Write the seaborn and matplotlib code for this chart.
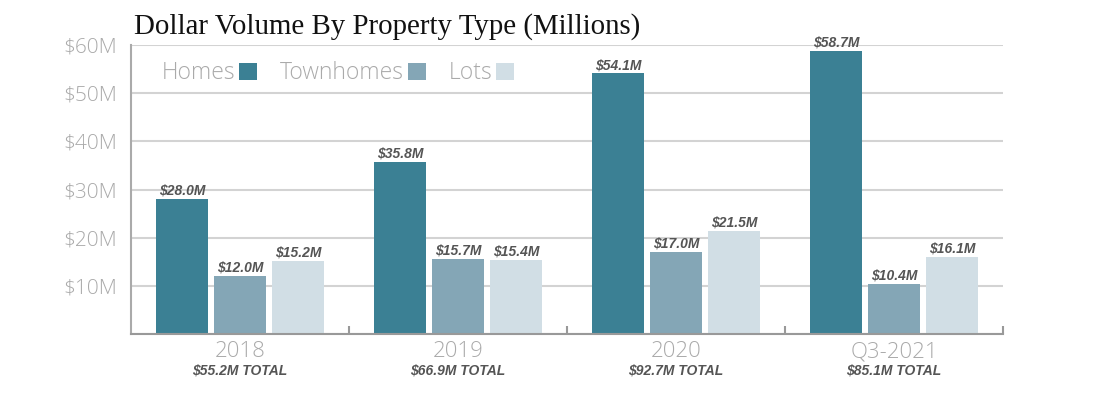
import pandas as pd
import seaborn as sns
import matplotlib.pyplot as plt
from matplotlib import ticker

# data (millions)
periods = ['2018', '2019', '2020', 'Q3-2021']
homes = [28.0, 35.8, 54.1, 58.7]
townhomes = [12.0, 15.7, 17.0, 10.4]
lots = [15.2, 15.4, 21.5, 16.1]
totals = ['$55.2M TOTAL', '$66.9M TOTAL', '$92.7M TOTAL', '$85.1M TOTAL']
types = ['Homes', 'Townhomes', 'Lots']
colors = ['#3b8094', '#84a6b6', '#d1dee5']

df = pd.DataFrame({'period': periods * 3,
                   'type': [t for t in types for _ in periods],
                   'value': homes + townhomes + lots})

sns.set_style('white')
plt.rcParams['font.family'] = ['Open Sans', 'DejaVu Sans']
lab_font = dict(family=['Liberation Sans', 'DejaVu Sans'], fontweight='bold',
                fontstyle='italic', color='#555555')

fig, ax = plt.subplots(figsize=(11, 3.95), dpi=100)
fig.subplots_adjust(left=0.119, right=0.912, bottom=0.154, top=0.886)

sns.barplot(data=df, x='period', y='value', hue='type', palette=colors,
            width=0.8, gap=0.1, saturation=1, linewidth=0, ax=ax, legend=True)

# value labels on bars
for cont in ax.containers:
    ax.bar_label(cont, labels=['$%.1fM' % v for v in cont.datavalues],
                 padding=1, fontsize=10, **lab_font)

ax.set_ylim(0, 60)
ax.set_xlim(-0.5, 3.5)
ax.yaxis.set_major_locator(ticker.MultipleLocator(10))
ax.yaxis.set_major_formatter(ticker.FuncFormatter(lambda v, p: '' if v == 0 else '$%dM' % v))
ax.grid(axis='y', color='#d3d3d3', linewidth=1.5)
ax.set_axisbelow(True)
ax.tick_params(axis='y', length=0, labelsize=15, labelcolor='#aaaaaa', pad=10)
for lbl in ax.get_yticklabels():
    lbl.set_fontweight('light')

# group labels + totals
ax.tick_params(axis='x', which='major', length=0, labelsize=16, labelcolor='#aaaaaa', pad=5)
for lbl in ax.get_xticklabels():
    lbl.set_fontweight('light')
ax.xaxis.set_minor_locator(ticker.FixedLocator([0.5, 1.5, 2.5, 3.5]))
ax.tick_params(axis='x', which='minor', bottom=True, direction='in', length=6,
               width=1.5, color='#999999')
for i, t in enumerate(totals):
    ax.text(i, -0.10, t, transform=ax.get_xaxis_transform(), ha='center', va='top',
            fontsize=10, **lab_font)

ax.set_xlabel('')
ax.set_ylabel('')
for s in ['top', 'right']:
    ax.spines[s].set_visible(False)
ax.spines['bottom'].set_color('#999999')
ax.spines['bottom'].set_linewidth(1.5)
ax.spines['left'].set_color('#aaaaaa')
ax.spines['left'].set_linewidth(1.5)

leg = ax.legend(loc='upper left', bbox_to_anchor=(0.025, 0.975), ncol=3, frameon=False,
                markerfirst=False, fontsize=16.5, handlelength=0.8, handleheight=0.8,
                handletextpad=0.15, columnspacing=1.0, borderaxespad=0)
for txt in leg.get_texts():
    txt.set_color('#aaaaaa')
    txt.set_fontweight('light')

ax.set_title('Dollar Volume By Property Type (Millions)', loc='left', x=0.003, y=1.0,
             pad=8, fontsize=20.8, family='Liberation Serif', color='#111111')

plt.savefig('out.png', dpi=100)
